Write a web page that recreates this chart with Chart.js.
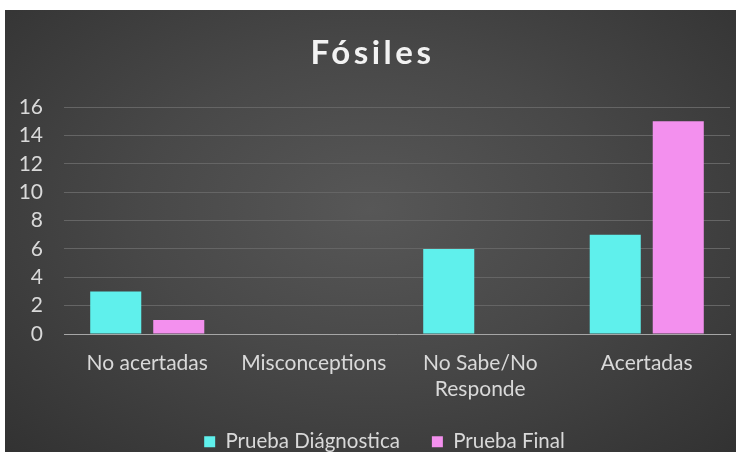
<!DOCTYPE html>
<html>
<head>
<meta charset="utf-8">
<script src="https://cdn.jsdelivr.net/npm/chart.js@4"></script>
<style>
  html, body { margin: 0; padding: 0; background: #ffffff; }
  #wrap {
    position: absolute; left: 5px; top: 10px; width: 731px; height: 442px; overflow: hidden;
    background: radial-gradient(ellipse at 50% 45%, #575757 0%, #484848 45%, #323232 100%);
  }
  canvas { display: block; }
</style>
</head>
<body>
<div id="wrap"><canvas id="fossilChart" width="731" height="452"></canvas></div>
<script>
// chart values
const categories = ["No acertadas", "Misconceptions", ["No Sabe/No", "Responde"], "Acertadas"];
const diagnostica = [3, 0, 6, 7];
const final = [1, 0, 0, 15];
const yTicks = [0, 2, 4, 6, 8, 10, 12, 14, 16];
const chartTitle = "Fósiles";

const labelColor = "#d9d9d9";
const font = "Lato, 'Open Sans', sans-serif";

// title drawn by hand so it can get the letter spacing of the original
const spacedTitle = {
    id: "spacedTitle",
    afterLayout(chart) {
        // the original legend sits a bit right of centre
        if (chart.legend) {
            chart.legend.left += 12;
            chart.legend.right += 12;
        }
    },
    afterDraw(chart) {
        const c = chart.ctx;
        c.save();
        c.font = "bold 33px " + font;
        c.letterSpacing = "3.5px";
        c.fillStyle = "#f2f2f2";
        c.textAlign = "center";
        c.textBaseline = "middle";
        c.fillText(chartTitle, chart.width / 2 + 2, 43);
        c.restore();
    }
};

const ctx = document.getElementById("fossilChart").getContext("2d");
new Chart(ctx, {
    type: "bar",
    data: {
        labels: categories,
        datasets: [
            {
                label: "Prueba Diágnostica",
                data: diagnostica,
                backgroundColor: "#5ff0ec",
                borderWidth: 0,
                categoryPercentage: 0.757,
                barPercentage: 0.81
            },
            {
                label: "Prueba Final",
                data: final,
                backgroundColor: "#f390ee",
                borderWidth: 0,
                categoryPercentage: 0.757,
                barPercentage: 0.81
            }
        ]
    },
    options: {
        responsive: false,
        animation: false,
        layout: { padding: { left: 10, right: 6, top: 97, bottom: 0 } },
        plugins: {
            title: { display: false },
            legend: {
                position: "bottom",
                labels: {
                    color: labelColor,
                    font: { family: font, size: 20.5 },
                    boxWidth: 11,
                    boxHeight: 11,
                    padding: 32
                }
            },
            tooltip: { enabled: false }
        },
        scales: {
            x: {
                grid: { display: false },
                border: { display: true, color: "#a6a6a6", width: 1 },
                afterFit: function (axis) {
                    axis.height -= 11;
                },
                ticks: {
                    color: labelColor,
                    font: { family: font, size: 21, lineHeight: 1.2 },
                    padding: 9,
                    maxRotation: 0
                }
            },
            y: {
                min: 0,
                max: 16,
                afterBuildTicks: function (axis) {
                    axis.ticks = yTicks.map(v => ({ value: v }));
                },
                afterFit: function (axis) {
                    axis.width = 49;
                },
                grid: { color: "#656565", lineWidth: 1, drawTicks: false },
                border: { display: false },
                ticks: {
                    color: labelColor,
                    font: { family: font, size: 21 },
                    padding: 21
                }
            }
        }
    },
    plugins: [spacedTitle]
});
</script>
</body>
</html>
